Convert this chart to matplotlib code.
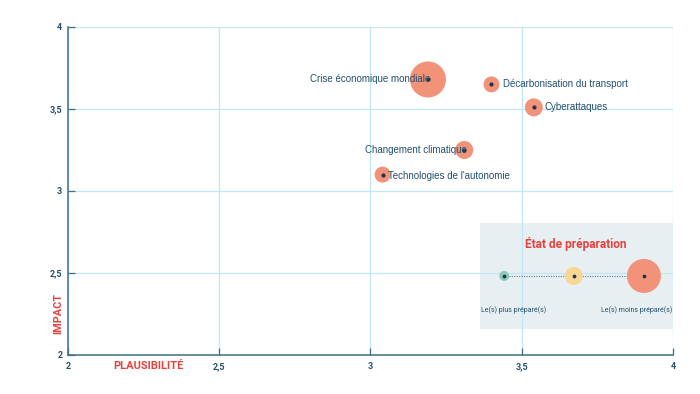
import numpy as np
import matplotlib.pyplot as plt

# risks: plausibility (x), impact (y), lack of preparation (bubble size score)
risk_names = ['Crise économique mondiale', 'Décarbonisation du transport', 'Cyberattaques',
              'Changement climatique', "Technologies de l'autonomie"]
plausibility = [3.19, 3.40, 3.54, 3.31, 3.04]
impact = [3.68, 3.65, 3.51, 3.25, 3.10]
unprepared = [3.6, 1.6, 1.8, 1.8, 1.6]

legend_scores = [1.0, 1.8, 3.4]
legend_colors = ['#8fcab8', '#f8d693', '#f29278']
legend_labels = ['Le(s) plus préparé(s)', 'Le(s) moins préparé(s)']

ticks = [2, 2.5, 3, 3.5, 4]
tick_labels = ['2', '2,5', '3', '3,5', '4']

DARK = '#23506b'
RED = '#e8413c'
GRID = '#bfe8f4'
AXIS = '#3f6f82'


def bubble_s(score):
    # score -> radius in px (5 px per unit), then scatter area in pt^2
    r_pt = np.asarray(score) * 5.0 * 72 / 100
    return (2 * r_pt) ** 2


plt.rcParams['font.family'] = ['Liberation Sans', 'DejaVu Sans']
fig = plt.figure(figsize=(7, 3.94), dpi=100, facecolor='white')
ax = fig.add_axes([0.0971, 0.099, 0.8643, 0.8325])

ax.set_xlim(2, 4)
ax.set_ylim(2, 4)
ax.set_xticks(ticks)
ax.set_xticklabels(tick_labels)
ax.set_yticks(ticks)
ax.set_yticklabels(tick_labels)
ax.grid(True, color=GRID, linewidth=0.9, zorder=2)
ax.set_axisbelow(False)
for s in ['top', 'right']:
    ax.spines[s].set_visible(False)
for s in ['left', 'bottom']:
    ax.spines[s].set_color(AXIS)
    ax.spines[s].set_linewidth(1.1)
    ax.spines[s].set_zorder(5)
ax.tick_params(axis='both', direction='in', length=5, width=0.9, color=AXIS,
               labelsize=6.5, labelcolor=DARK)
ax.tick_params(axis='y', pad=4)
ax.tick_params(axis='x', pad=5)
for lab in ax.get_xticklabels() + ax.get_yticklabels():
    lab.set_fontweight('bold')
    lab.set_family(['Roboto', 'DejaVu Sans'])

# legend panel (axes fraction)
ax.add_patch(plt.Rectangle((0.681, 0.079), 0.319, 0.323, transform=ax.transAxes,
                           facecolor='#e8eff3', edgecolor='none', zorder=1))

# bubbles
ax.scatter(plausibility, impact, s=bubble_s(unprepared), color='#f29278',
           edgecolors='none', zorder=3)
ax.scatter(plausibility, impact, s=4, color='#1b3752', zorder=4)

offsets = {
    'Crise économique mondiale': (2, 0, 'right'),
    'Décarbonisation du transport': (8, 0, 'left'),
    'Cyberattaques': (8, 0, 'left'),
    'Changement climatique': (2, 0, 'right'),
    "Technologies de l'autonomie": (4, -1, 'left'),
}
for name, x, y in zip(risk_names, plausibility, impact):
    dx, dy, ha = offsets[name]
    ax.annotate(name, (x, y), xytext=(dx, dy), textcoords='offset points',
                ha=ha, va='center', fontsize=7, color=DARK, zorder=6)

# legend content
lx = [0.721, 0.836, 0.952]
ly = 0.241
ax.plot([lx[0], lx[-1]], [ly, ly], transform=ax.transAxes, color='#5b7f93',
        linestyle=(0, (1, 1.2)), linewidth=0.8, zorder=3)
ax.scatter(lx, [ly] * 3, s=bubble_s(legend_scores), color=legend_colors,
           edgecolors='none', transform=ax.transAxes, zorder=4)
ax.scatter(lx, [ly] * 3, s=3, color='#1b3752', transform=ax.transAxes, zorder=5)
ax.text(0.84, 0.34, 'État de préparation', transform=ax.transAxes, ha='center', va='center',
        fontsize=8.6, fontweight='bold', color=RED, family=['Roboto', 'DejaVu Sans'])
ax.text(0.737, 0.138, legend_labels[0], transform=ax.transAxes, ha='center', va='center',
        fontsize=5, color=DARK, family=['Roboto', 'DejaVu Sans'])
ax.text(0.94, 0.138, legend_labels[1], transform=ax.transAxes, ha='center', va='center',
        fontsize=5, color=DARK, family=['Roboto', 'DejaVu Sans'])

# axis titles
fig.text(148 / 700, 1 - 366 / 394, 'PLAUSIBILITÉ', ha='center', va='center', fontsize=8,
         fontweight='bold', color=RED, family=['Roboto', 'DejaVu Sans'])
fig.text(58 / 700, 1 - 313 / 394, 'IMPACT', ha='center', va='center', rotation=90,
         fontsize=7.8, fontweight='bold', color=RED, family=['Roboto', 'DejaVu Sans'])

fig.savefig('out.png', dpi=100, facecolor='white')
